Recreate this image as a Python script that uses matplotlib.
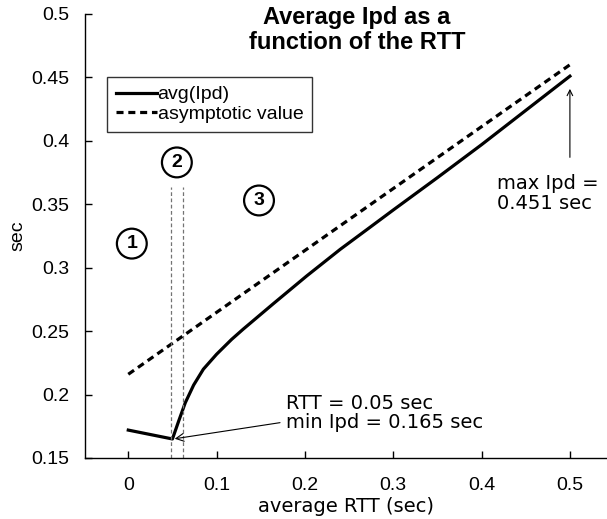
import numpy as np
import matplotlib
matplotlib.use("Agg")
import matplotlib.pyplot as plt

# ---- data ----
rtt = [0.0, 0.05, 0.057, 0.0645, 0.074, 0.085, 0.100, 0.117, 0.130, 0.164,
       0.202, 0.240, 0.272, 0.30, 0.35, 0.40, 0.45, 0.50]
avg_ipd = [0.172, 0.165, 0.179, 0.1935, 0.2075, 0.220, 0.2318, 0.2435, 0.2515, 0.2715,
           0.2935, 0.3145, 0.331, 0.3455, 0.371, 0.397, 0.424, 0.451]
asym_x = [0.0, 0.5]
asym_y = [0.216, 0.460]
region_lines = [0.048, 0.062]
region_labels = ["1", "2", "3"]
region_pos = [(0.004, 0.319), (0.055, 0.383), (0.148, 0.353)]

HELV = ["Liberation Sans", "DejaVu Sans"]
VERD = ["DejaVu Sans"]

fig = plt.figure(figsize=(6.07, 5.19), dpi=100)
ax = fig.add_axes([85 / 607, 61 / 519, 1 - 85 / 607, (458 - 14) / 519])

ax.plot(rtt, avg_ipd, color="k", lw=2.3, label="avg(Ipd)", solid_joinstyle="round")
ax.plot(asym_x, asym_y, color="k", lw=2.3, ls=(0, (2.2, 1.5)), label="asymptotic value")
for xv in region_lines:
    ax.plot([xv, xv], [0.15, 0.364], color="0.45", lw=0.9, ls=(0, (3, 2)))

for lab, (xv, yv) in zip(region_labels, region_pos):
    ax.text(xv, yv, lab, ha="center", va="center", fontsize=14, fontweight="bold",
            family=HELV,
            bbox=dict(boxstyle="circle,pad=0.33", fc="white", ec="k", lw=1.6))

ax.annotate("RTT = 0.05 sec\nmin Ipd = 0.165 sec", xy=(0.051, 0.165),
            xytext=(0.1785, 0.1855), fontsize=14, family=VERD, va="center",
            linespacing=1.05,
            arrowprops=dict(arrowstyle="->", color="k", lw=0.8,
                            shrinkA=0, shrinkB=1, relpos=(-0.03, 0.25)))
ax.annotate("", xy=(0.5, 0.441), xytext=(0.5, 0.387),
            arrowprops=dict(arrowstyle="->", color="k", lw=0.8, shrinkA=0, shrinkB=0))
ax.text(0.417, 0.3585, "max Ipd =\n0.451 sec", fontsize=14, family=VERD,
        ha="left", va="center", linespacing=1.05)

ax.set_xlim(-0.049, 0.542)
ax.set_ylim(0.15, 0.5)
ax.set_xticks([0, 0.1, 0.2, 0.3, 0.4, 0.5])
ax.set_xticklabels(["0", "0.1", "0.2", "0.3", "0.4", "0.5"])
ax.set_yticks([0.15, 0.2, 0.25, 0.3, 0.35, 0.4, 0.45, 0.5])
ax.set_yticklabels(["0.15", "0.2", "0.25", "0.3", "0.35", "0.4", "0.45", "0.5"])
ax.tick_params(direction="in", length=5, width=1, labelsize=14)
ax.tick_params(axis="y", pad=11)
ax.tick_params(axis="x", pad=14)
for t in ax.get_xticklabels() + ax.get_yticklabels():
    t.set_family(HELV)
ax.spines["top"].set_visible(False)
ax.spines["right"].set_visible(False)
for s in ("left", "bottom"):
    ax.spines[s].set_linewidth(1.0)

ax.set_xlabel("average RTT (sec)", fontsize=14, family=VERD, labelpad=2)
ax.set_ylabel("sec", fontsize=14, family=HELV, labelpad=4)

fig.text(357 / 607, 1 - 30 / 519, "Average Ipd as a\nfunction of the RTT",
         ha="center", va="center", fontsize=17, fontweight="bold", family=HELV,
         linespacing=1.1)

leg = ax.legend(loc="upper left", bbox_to_anchor=(22 / 522, 1 - 63 / 444),
                prop={"family": HELV, "size": 14}, frameon=True, fancybox=False,
                edgecolor="k", handlelength=2.1, handletextpad=0.05,
                borderpad=0.45, labelspacing=0.12, borderaxespad=0)
leg.get_frame().set_linewidth(1.0)

fig.savefig("out.png", dpi=100)
